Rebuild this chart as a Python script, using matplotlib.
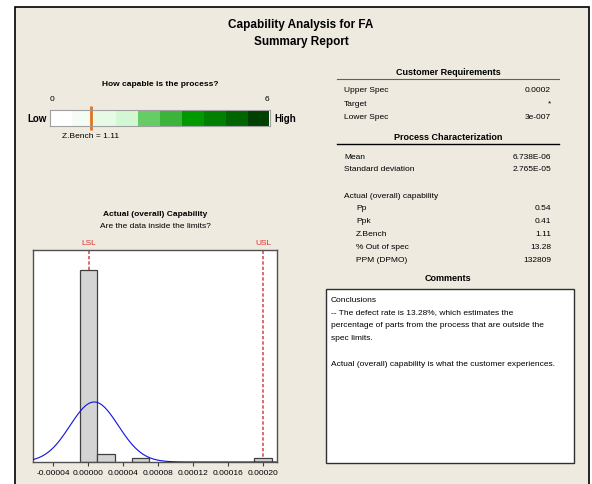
import numpy as np
import matplotlib
matplotlib.use('Agg')
import matplotlib.pyplot as plt
from matplotlib.patches import Rectangle
from matplotlib.lines import Line2D

plt.rcParams['font.family'] = ['Liberation Sans', 'DejaVu Sans']
plt.rcParams['font.size'] = 6

# --- data ---
lsl = 3e-7
usl = 0.0002
mean = 6.738e-06
sd = 2.765e-05
z_bench = 1.11
bin_centers = [0.0, 0.00002, 0.00004, 0.00006, 0.0002]
bin_counts = [48, 2, 0, 1, 1]
bin_width = 0.00002
x_ticks = [-0.00004, 0.0, 0.00004, 0.00008, 0.00012, 0.00016, 0.00020]

req_labels = ['Upper Spec', 'Target', 'Lower Spec']
req_values = ['0.0002', '*', '3e-007']
char_labels = ['Mean', 'Standard deviation']
char_values = ['6.738E-06', '2.765E-05']
cap_labels = ['Pp', 'Ppk', 'Z.Bench', '% Out of spec', 'PPM (DPMO)']
cap_values = ['0.54', '0.41', '1.11', '13.28', '132809']
comment_lines = ['Conclusions',
                 '-- The defect rate is 13.28%, which estimates the',
                 'percentage of parts from the process that are outside the',
                 'spec limits.',
                 '',
                 'Actual (overall) capability is what the customer experiences.']
gauge_colors = ['#ffffff', '#f4fcf4', '#e6fae6', '#d2f7d2', '#66cc66',
                '#3cb43c', '#009900', '#008000', '#006400', '#004000']

W, H = 592, 485
BG = '#eeeae0'


def fx(x):
    return x / W


def fy(y):
    return 1 - y / H


def ftext(x, y, s, **kw):
    kw.setdefault('va', 'center')
    fig.text(fx(x), fy(y), s, **kw)


fig = plt.figure(figsize=(W / 100, H / 100), dpi=100, facecolor='white')

# panel background
fig.patches.append(Rectangle((fx(15), -0.05), fx(589) - fx(15), fy(8) + 0.05,
                             transform=fig.transFigure, facecolor=BG,
                             edgecolor='black', linewidth=1.2, zorder=-10))

ftext(301, 25, 'Capability Analysis for FA', ha='center', fontsize=8.5, fontweight='bold')
ftext(301, 42, 'Summary Report', ha='center', fontsize=8.5, fontweight='bold')

# --- gauge ---
ftext(160, 85, 'How capable is the process?', ha='center', fontsize=6, fontweight='bold')
gx0, gx1, gy0, gy1 = 50, 269.5, 111, 127
gax = fig.add_axes([fx(gx0), fy(gy1), fx(gx1) - fx(gx0), fy(gy0) - fy(gy1)])
gax.set_zorder(5)
seg = 6 / len(gauge_colors)
gax.barh(0, seg, left=np.arange(len(gauge_colors)) * seg, height=1,
         color=gauge_colors, edgecolor='none', align='center')
gax.set_xlim(0, 6)
gax.set_ylim(-0.5, 0.5)
gax.set_xticks([])
gax.set_yticks([])
for s in gax.spines.values():
    s.set_color('#a0a0a0')
    s.set_linewidth(0.8)
gax.plot([z_bench, z_bench], [-0.75, 0.75], color='#e8701a', lw=2,
         clip_on=False, solid_capstyle='butt')
ftext(51.5, 100, '0', ha='center', fontsize=6)
ftext(267, 100, '6', ha='center', fontsize=6)
ftext(47, 119, 'Low', ha='right', fontsize=7, fontweight='bold')
ftext(274, 119, 'High', ha='left', fontsize=7, fontweight='bold')
ftext(62, 137, 'Z.Bench = %.2f' % z_bench, ha='left', fontsize=6)

# --- histogram ---
ftext(155, 215, 'Actual (overall) Capability', ha='center', fontsize=6, fontweight='bold')
ftext(155, 226, 'Are the data inside the limits?', ha='center', fontsize=6)
ax = fig.add_axes([fx(33), fy(463), fx(277) - fx(33), fy(251) - fy(463)])
ax.set_zorder(5)
ax.set_facecolor('white')
ax.bar(bin_centers, bin_counts, width=bin_width, color='#d4d4d4',
       edgecolor='#404040', linewidth=0.9, zorder=2)
xs = np.linspace(-0.0000633, 0.000216, 300)
n = sum(bin_counts)
pdf = n * bin_width * np.exp(-0.5 * ((xs - mean) / sd) ** 2) / (sd * np.sqrt(2 * np.pi))
ax.plot(xs, pdf, color='#1010e0', lw=0.8, zorder=3)
for v, lab in [(lsl, 'LSL'), (usl, 'USL')]:
    ax.axvline(v, color='#e05050', lw=1.2, ls=(0, (2, 1.2)), zorder=1)
    ax.text(v, 1.035, lab, color='#e03030', ha='center', va='center',
            fontsize=6, transform=ax.get_xaxis_transform())
ax.set_xlim(-0.0000633, 0.000216)
ax.set_ylim(0, 53)
ax.set_yticks([])
ax.set_xticks(x_ticks)
ax.set_xticklabels(['%.5f' % t for t in x_ticks])
ax.tick_params(axis='x', labelsize=6, length=3, width=0.8, color='#404040', pad=2)
for s in ax.spines.values():
    s.set_color('#505050')
    s.set_linewidth(1.0)

# --- right tables ---
lx, rx = 344, 551
cx = 448
ftext(cx, 72.5, 'Customer Requirements', ha='center', fontsize=6.5, fontweight='bold')
fig.lines.append(Line2D([fx(337), fx(559)], [fy(80), fy(80)], color='#606060', lw=0.8,
                        transform=fig.transFigure))
y = 91
for lab, val in zip(req_labels, req_values):
    ftext(lx, y, lab, ha='left')
    ftext(rx, y, val, ha='right')
    y += 13.3
ftext(cx, 137.3, 'Process Characterization', ha='center', fontsize=6.5, fontweight='bold')
fig.lines.append(Line2D([fx(337), fx(559)], [fy(145.3), fy(145.3)], color='black', lw=1.0,
                        transform=fig.transFigure))
y = 157.3
for lab, val in zip(char_labels, char_values):
    ftext(lx, y, lab, ha='left')
    ftext(rx, y, val, ha='right')
    y += 12
ftext(lx, 196, 'Actual (overall) capability', ha='left')
y = 208.7
for lab, val in zip(cap_labels, cap_values):
    ftext(356, y, lab, ha='left')
    ftext(rx, y, val, ha='right')
    y += 13
ftext(cx, 279, 'Comments', ha='center', fontsize=6.5, fontweight='bold')

# comments box
fig.patches.append(Rectangle((fx(326), fy(464)), fx(574) - fx(326), fy(290) - fy(464),
                             transform=fig.transFigure, facecolor='white',
                             edgecolor='#303030', linewidth=1.0, zorder=1))
y = 300
for line in comment_lines:
    if line:
        ftext(331, y, line, ha='left')
    y += 12.8

fig.savefig('out.png', dpi=100, facecolor='white')
